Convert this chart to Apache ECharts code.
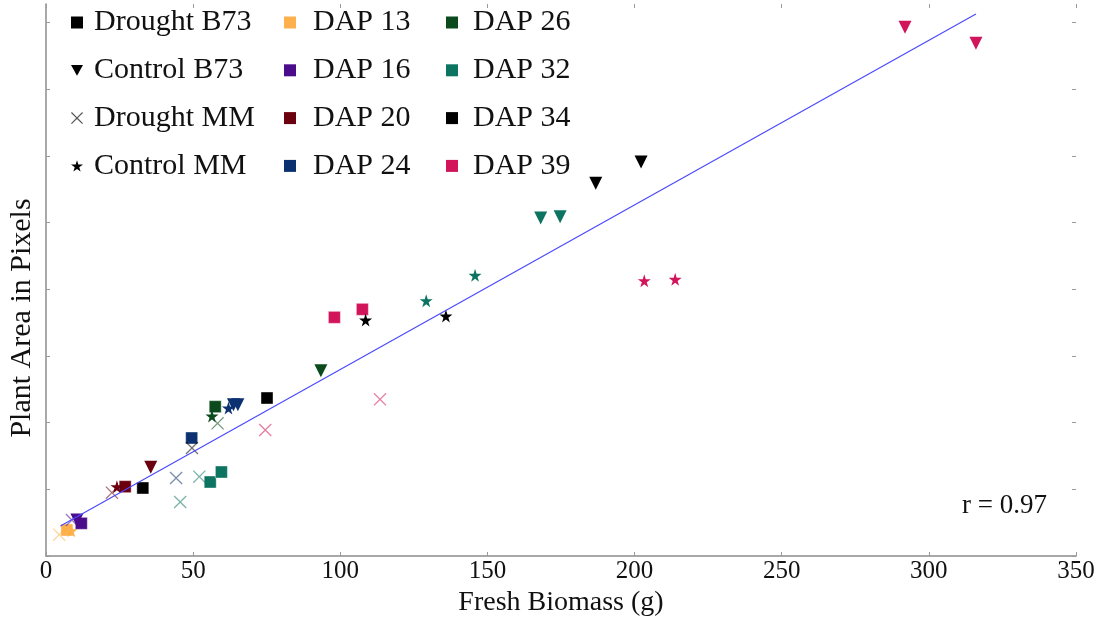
<!DOCTYPE html>
<html><head><meta charset="utf-8">
<script src="https://cdn.jsdelivr.net/npm/echarts@6/dist/echarts.min.js"></script>
<style>html,body{margin:0;padding:0;background:#fff}#c{width:1103px;height:619px}</style>
</head><body><div id="c"></div>
<script>
// ---------- data ----------
const dapLabels = ['DAP 13','DAP 16','DAP 20','DAP 24','DAP 26','DAP 32','DAP 34','DAP 39'];
const dapDays   = [13,16,20,24,26,32,34,39];
const dapColors = ['#fdb04b','#4b0c8c','#6b000f','#0c3170','#0a4a1c','#0c7460','#000000','#d2145a'];
const groupNames = ['Drought B73','Control B73','Drought MM','Control MM'];
const xTickValues = [0,50,100,150,200,250,300,350];
const yTickValues = [0,1,2,3,4,5,6,7,8];
// each point: [fresh biomass (g), plant area (axis tick units), DAP]
const droughtB73 = [[7.1,0.39,13],[12.0,0.49,16],[26.9,1.04,20],[49.5,1.77,24],[57.5,2.24,26],
  [55.8,1.11,32],[59.6,1.26,32],[32.9,1.02,34],[75.1,2.37,34],[98.0,3.58,39],[107.5,3.70,39]];
const controlB73 = [[10.5,0.54,16],[35.6,1.33,20],[63.7,2.27,24],[65.2,2.27,24],[93.4,2.78,26],
  [168.1,5.07,32],[174.7,5.09,32],[186.8,5.59,34],[202.2,5.91,34],[291.9,7.93,39],[316.0,7.69,39]];
const droughtMM = [[4.5,0.32,13],[8.8,0.54,16],[22.4,0.95,20],[44.2,1.17,24],[58.3,1.99,26],
  [45.6,0.81,32],[52.1,1.19,32],[49.6,1.62,34],[74.5,1.89,39],[113.5,2.35,39]];
const controlMM = [[8.6,0.38,13],[24.1,1.04,20],[62.0,2.22,24],[56.4,2.10,26],[129.2,3.83,32],
  [145.8,4.21,32],[108.6,3.54,34],[135.9,3.60,34],[203.3,4.13,39],[213.8,4.15,39]];
const fitLine = [[4.9,0.45],[316.0,8.13]];
const rText = 'r = 0.97';

// ---------- styling ----------
const SERIF = '"Liberation Serif","DejaVu Serif",serif';
const X_PATH = 'path://M0,7L7,0L50,43L93,0L100,7L57,50L100,93L93,100L50,57L7,100L0,93L43,50Z';
const STAR_PATH = 'path://M50,0L61,35L98,35L68,57L79,91L50,70L21,91L32,57L2,35L39,35Z';
const TRI_DOWN = 'path://M0,0L100,0L50,90Z';
const groupStyle = [
  {data: droughtB73, symbol: 'rect', size: 12, opacity: 1, legendColor: '#000'},
  {data: controlB73, symbol: TRI_DOWN, size: 13, opacity: 1, legendColor: '#000'},
  {data: droughtMM, symbol: X_PATH, size: 13, opacity: 0.55, legendColor: '#555'},
  {data: controlMM, symbol: STAR_PATH, size: 13, opacity: 1, legendColor: '#000'}
];

const series = [];
groupNames.forEach((g, gi) => {
  const st = groupStyle[gi];
  series.push({ // legend entry
    name: g, type: 'scatter', data: [], symbol: st.symbol,
    itemStyle: {color: st.legendColor, opacity: 1}
  });
});
dapLabels.forEach((d, di) => {
  series.push({name: d, type: 'scatter', data: [], symbol: 'rect', itemStyle: {color: dapColors[di], opacity: 1}});
});
groupNames.forEach((g, gi) => {
  const st = groupStyle[gi];
  dapDays.forEach((day, di) => {
    const pts = st.data.filter(p => p[2] === day).map(p => [p[0], p[1]]);
    if (!pts.length) return;
    series.push({
      name: g + ' ' + dapLabels[di], type: 'scatter', data: pts,
      symbol: st.symbol, symbolSize: st.size,
      itemStyle: {color: dapColors[di], opacity: st.opacity, borderColor: 'rgba(255,255,255,0.5)', borderWidth: gi === 0 ? 0.8 : 0},
      z: 2 + gi
    });
  });
});
series.push({
  name: 'fit', type: 'line', data: fitLine, symbol: 'none', z: 10,
  lineStyle: {color: '#4a4aff', width: 1.2}
});

const legendText = pad => ({fontFamily: SERIF, fontSize: 30, color: '#111', lineHeight: 31, padding: [0,0,0,pad]});
const legendBase = {orient: 'vertical', top: 7, padding: 0, itemWidth: 12, itemHeight: 12, itemGap: 16.8, selectedMode: false};

const axisLineStyle = {color: '#8c8c8c', width: 1.5};
const tickStyle = {color: '#9a9a9a', width: 1};

const option = {
  animation: false,
  backgroundColor: '#fff',
  grid: {left: 46, right: 27, top: 4, bottom: 63, containLabel: false, outerBoundsMode: 'none'},
  legend: [
    Object.assign({}, legendBase, {data: groupNames, left: 71, textStyle: legendText(6)}),
    Object.assign({}, legendBase, {data: dapLabels.slice(0,4), left: 284, textStyle: legendText(12)}),
    Object.assign({}, legendBase, {data: dapLabels.slice(4), left: 446, textStyle: legendText(10)})
  ],
  xAxis: [
    {type: 'value', position: 'bottom', min: 0, max: 350, interval: 50,
     axisLine: {show: true, onZero: false, lineStyle: axisLineStyle},
     axisTick: {show: true, inside: true, length: 4, lineStyle: tickStyle, customValues: xTickValues},
     axisLabel: {fontFamily: SERIF, fontSize: 25, color: '#111', margin: 3, customValues: xTickValues},
     splitLine: {show: false},
     name: 'Fresh Biomass (g)', nameLocation: 'middle', nameGap: 26,
     nameTextStyle: {fontFamily: SERIF, fontSize: 28, color: '#111'}},
    {type: 'value', position: 'top', min: 0, max: 350, interval: 50,
     axisLine: {show: false, onZero: false},
     axisTick: {show: true, inside: true, length: 4, lineStyle: tickStyle, customValues: xTickValues},
     axisLabel: {show: false}, splitLine: {show: false}}
  ],
  yAxis: [
    {type: 'value', position: 'left', min: 0, max: 8.28, interval: 1,
     axisLine: {show: true, onZero: false, lineStyle: axisLineStyle},
     axisTick: {show: true, inside: true, length: 4, lineStyle: tickStyle, customValues: yTickValues},
     axisLabel: {show: false}, splitLine: {show: false}},
    {type: 'value', position: 'right', min: 0, max: 8.28, interval: 1,
     axisLine: {show: false, onZero: false},
     axisTick: {show: true, inside: true, length: 4, lineStyle: tickStyle, customValues: yTickValues},
     axisLabel: {show: false}, splitLine: {show: false}}
  ],
  graphic: [
    {type: 'text', left: 962, top: 492, style: {text: rText, font: '27px ' + SERIF, fill: '#111'}},
    {type: 'text', x: 7, y: 318, rotation: Math.PI / 2,
     style: {text: 'Plant Area in Pixels', font: '30px ' + SERIF, fill: '#111', align: 'center', verticalAlign: 'top'}}
  ],
  series: series
};
const chart = echarts.init(document.getElementById('c'), null, {renderer: 'canvas'});
chart.setOption(option);
</script>
</body></html>
